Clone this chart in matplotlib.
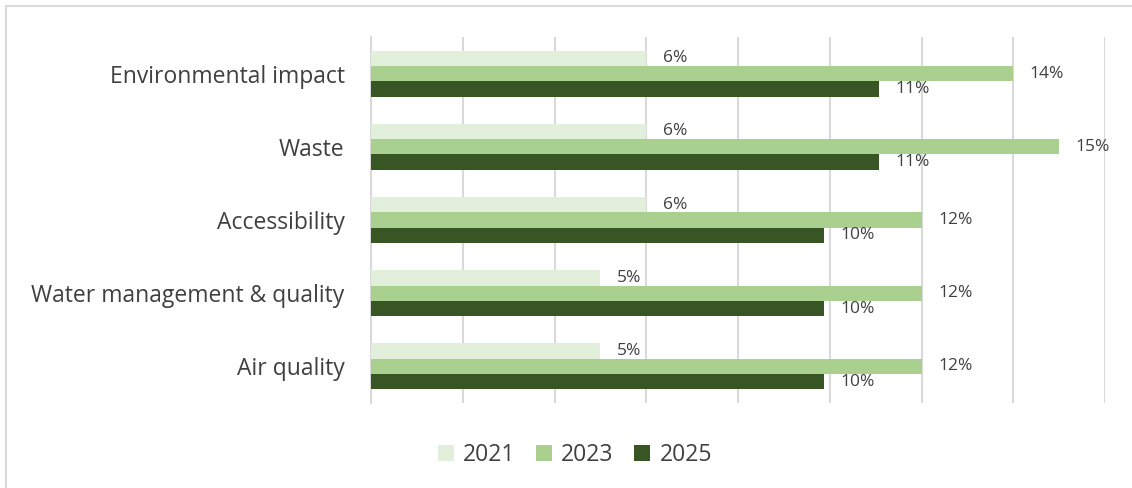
import numpy as np
from matplotlib import pyplot as plt
from matplotlib.lines import Line2D

plt.rcParams['font.family'] = ['Open Sans', 'DejaVu Sans']

categories = ['Environmental impact', 'Waste', 'Accessibility',
              'Water management & quality', 'Air quality']
years = ['2021', '2023', '2025']
v2021 = [6.0, 6.0, 6.0, 5.0, 5.0]
v2023 = [14.0, 15.0, 12.0, 12.0, 12.0]
v2025 = [11.07, 11.07, 9.87, 9.87, 9.87]
colors = ['#e2efda', '#a9d08e', '#375623']

fig = plt.figure(figsize=(11.32, 4.88), dpi=100)
ax = fig.add_axes([371 / 1132, 1 - 403 / 488, (1105 - 371) / 1132, (403 - 37) / 488])

y = np.arange(len(categories))
h = 0.21
for i, (vals, c) in enumerate(zip([v2021, v2023, v2025], colors)):
    pos = y + (i - 1) * h
    ax.barh(pos, vals, height=h, color=c, zorder=3, label=years[i])
    for p, v in zip(pos, vals):
        ax.annotate(f'{v:.0f}%', (v, p), xytext=(12, 0), textcoords='offset points',
                    va='center', ha='left', fontsize=12.5, color='#404040')

ax.set_xlim(0, 16)
ax.set_ylim(len(categories) - 0.5, -0.5)
ax.set_xticks(np.arange(0, 17, 2))
ax.set_xticklabels([])
ax.tick_params(axis='x', length=0)
ax.tick_params(axis='y', length=0, pad=19, labelsize=16.5, labelcolor='#404040')
ax.set_yticks(y)
ax.set_yticklabels(categories)
ax.grid(axis='x', color='#d9d9d9', linewidth=1.5, zorder=0)
for s in ['top', 'right', 'bottom']:
    ax.spines[s].set_visible(False)
ax.spines['left'].set_color('#d9d9d9')
ax.spines['left'].set_linewidth(1.5)

ax.legend(loc='center', bbox_to_anchor=(575 / 1132, 1 - 455 / 488),
          bbox_transform=fig.transFigure, ncol=3, frameon=False,
          fontsize=16.5, labelcolor='#404040', handlelength=0.7, handleheight=0.7,
          columnspacing=0.9, handletextpad=0.4)

# outer chart border (only top and left visible in the crop)
fig.add_artist(Line2D([6 / 1132, 6 / 1132], [0, 1 - 6 / 488], color='#d9d9d9', lw=1.5))
fig.add_artist(Line2D([6 / 1132, 1], [1 - 6 / 488, 1 - 6 / 488], color='#d9d9d9', lw=1.5))

fig.savefig('out.png', dpi=100)
